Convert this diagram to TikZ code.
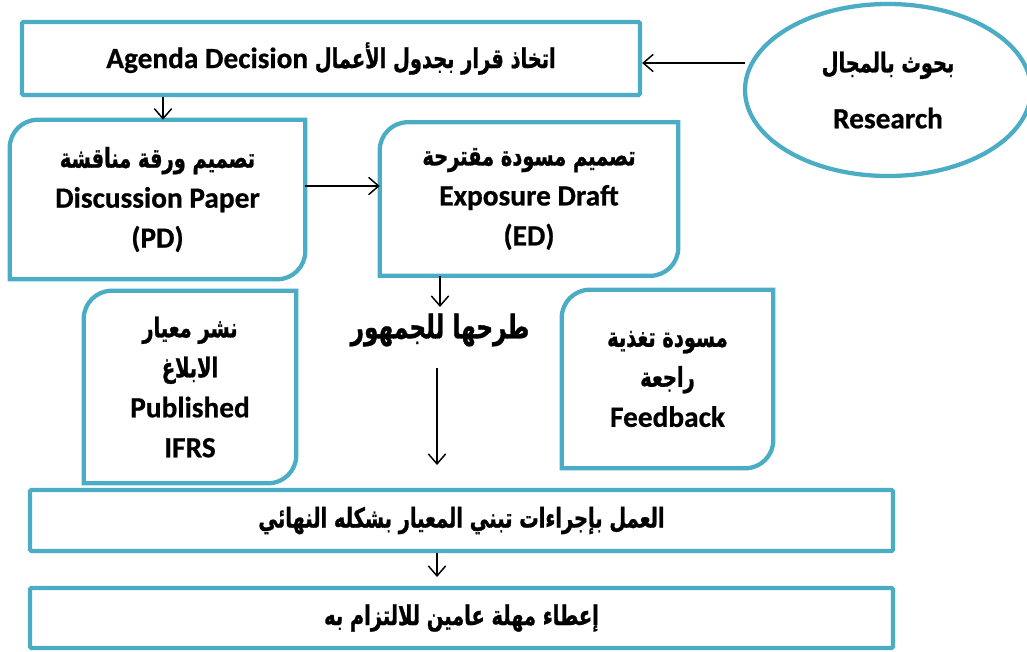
\documentclass[tikz,border=0pt]{standalone}
\usepackage{fontspec}
\setmainfont{Carlito}[BoldFeatures={FakeBold=0.6}]
\newfontfamily\arabicfont[Script=Arabic, FakeStretch=0.71, FakeBold=1]{DejaVu Sans}
\TeXXeTstate=1
\usetikzlibrary{arrows.meta,shapes.geometric,calc}
\definecolor{frame}{RGB}{75,172,198}

% Arabic run, right to left
\newcommand\artext[1]{{\arabicfont\bfseries\fontsize{20.5}{30}\selectfont\beginR #1\endR}}

% outline with the top-left and bottom-right corners rounded
\newcommand\diagoutline[2]{%
  \draw[boxline] (#1.south west) -- ([yshift=-#2]#1.north west)
    .. controls ([yshift=-0.448*#2]#1.north west) and ([xshift=0.448*#2]#1.north west) .. ([xshift=#2]#1.north west)
    -- (#1.north east) -- ([yshift=#2]#1.south east)
    .. controls ([yshift=0.448*#2]#1.south east) and ([xshift=-0.448*#2]#1.south east) .. ([xshift=-#2]#1.south east)
    -- cycle;}

\tikzset{
  boxline/.style={draw=frame, line width=3.2pt},
  arr/.style={-{Straight Barb[length=7.5pt,width=13pt]}, line width=1.1pt},
  lbl/.style={align=center, font=\fontsize{22}{30}\selectfont\bfseries, inner sep=0pt},
}

\begin{document}
\begin{tikzpicture}[x=0.75pt,y=-0.75pt]
\useasboundingbox (0,0) rectangle (1027,651);

% top row
\node[lbl, minimum width=463.5pt, minimum height=54.75pt, boxline, rounded corners=1pt] (agenda) at (331,58.5)
  {Agenda Decision \artext{اتخاذ قرار بجدول الأعمال}};
\node[lbl, ellipse, boxline, minimum width=214.5pt, minimum height=129pt, align=center] (research) at (888,90)
  {\artext{بحوث بالمجال}\\[12pt] Research};

% drafting stage
\node[lbl, minimum width=221.25pt, minimum height=119.25pt] (pd) at (157.5,199.5)
  {\artext{تصميم ورقة مناقشة}\\ Discussion Paper\\ (PD)};
\diagoutline{pd}{21pt}
\node[lbl, minimum width=223.5pt, minimum height=114.75pt] (ed) at (529,199)
  {\artext{تصميم مسودة مقترحة}\\ Exposure Draft\\ (ED)};
\diagoutline{ed}{21pt}

% public consultation
\node[lbl] (public) at (440,330)
  {{\arabicfont\bfseries\fontsize{24.5}{30}\selectfont\beginR طرحها للجمهور\endR}};
\node[lbl, minimum width=159pt, minimum height=144pt] (publ) at (190,387)
  {\artext{نشر معيار}\\ \artext{الابلاغ}\\ Published\\ IFRS};
\diagoutline{publ}{21pt}
\node[lbl, minimum width=158.25pt, minimum height=133.5pt] (feed) at (667.5,379)
  {\artext{مسودة تغذية}\\ \artext{راجعة}\\ Feedback};
\diagoutline{feed}{21pt}

% final steps
\node[lbl, boxline, rounded corners=1pt, minimum width=647.25pt, minimum height=45.75pt] (adopt) at (461.5,520.5)
  {\artext{العمل بإجراءات تبني المعيار بشكله النهائي}};
\node[lbl, boxline, rounded corners=1pt, minimum width=647.25pt, minimum height=45pt] (grace) at (461.5,618)
  {\artext{إعطاء مهلة عامين للالتزام به}};

% connectors
\coordinate (rs) at (745,63);
\draw[arr] (rs) -- (agenda.east |- rs);
\coordinate (ag) at (163,95);
\draw[arr] (ag |- agenda.south) -- (ag |- pd.north);
\coordinate (pe) at (307,186);
\draw[arr] (pd.east |- pe) -- (ed.west |- pe);
\coordinate (ep) at (440,307);
\draw[arr] (ep |- ed.south) -- (ep);
\coordinate (pa) at (437,368);
\coordinate (pb) at (437,465);
\draw[arr] (pa) -- (pb);
\coordinate (ac) at (437,577);
\draw[arr] (ac |- adopt.south) -- (ac);
\end{tikzpicture}
\end{document}
